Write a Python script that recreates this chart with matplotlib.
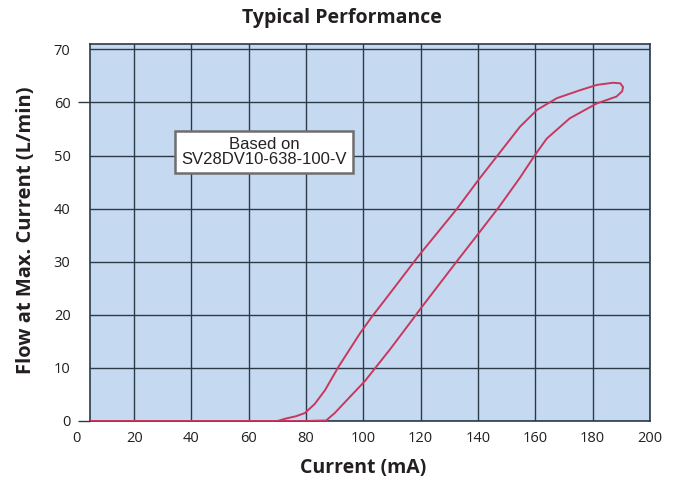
import matplotlib
matplotlib.use("Agg")
import matplotlib.pyplot as plt
from matplotlib.ticker import FixedLocator

# ---- data ----
# rising current branch (lower/right curve)
rising_current = [0, 40, 80, 87, 90, 94, 100.5, 109.3, 116.7, 120, 132.5, 140, 147.3,
                  154.6, 160, 164, 172, 181.4, 188.3, 190.3, 190.6]
rising_flow = [0, 0, 0, 0.1, 1.5, 3.8, 7.5, 13.5, 18.8, 21.2, 30.0, 35.2, 40.3,
               45.8, 50.2, 53.2, 57.0, 59.8, 61.1, 62.1, 62.9]
# falling current branch (upper/left curve)
falling_current = [0, 40, 70, 73.2, 76.5, 79.6, 83, 86.6, 91.3, 98.8, 102.9, 107.5,
                   117.7, 120, 132.7, 140, 146.8, 154.6, 160.6, 167.5, 175.6, 181.5,
                   187.1, 189.6, 190.6]
falling_flow = [0, 0, 0, 0.5, 0.9, 1.5, 3.2, 5.8, 10.2, 16.5, 19.6, 22.8,
                30.0, 31.6, 40.0, 45.3, 50.0, 55.4, 58.6, 60.8, 62.3, 63.3,
                63.7, 63.6, 62.9]

x_ticks = [20, 40, 60, 80, 100, 120, 140, 160, 180, 200]
x_tick_labels = ["20", "40", "60", "80", "100", "120", "140", "160", "180", "200"]
x_origin_label = "0"
y_ticks = [0, 10, 20, 30, 40, 50, 60, 70]
y_tick_labels = ["0", "10", "20", "30", "40", "50", "60", "70"]
stub_ticks = [0, 60]

title = "Typical Performance"
x_label = "Current (mA)"
y_label = "Flow at Max. Current (L/min)"
note = "Based on\nSV28DV10-638-100-V"

# ---- style ----
FONT = ["Open Sans", "DejaVu Sans"]
plt.rcParams["font.family"] = FONT
text_color = "#231f20"
grid_color = "#2c3a48"
bg_color = "#c5daf0"
curve_color = "#c8385e"

fig = plt.figure(figsize=(6.82, 4.83), dpi=100)
ax = fig.add_axes([90 / 682, 1 - 421 / 483, (650 - 90) / 682, (421 - 44) / 483])
ax.set_facecolor(bg_color)

# loop: rising branch then falling branch back
loop_x = rising_current + falling_current[::-1]
loop_y = rising_flow + falling_flow[::-1]
ax.plot(loop_x, loop_y, color=curve_color, lw=1.4, solid_joinstyle="round",
        solid_capstyle="round", zorder=3)

ax.set_xlim(4.6, 200)
ax.set_ylim(0, 71)

ax.set_xticks(x_ticks)
ax.set_xticklabels(x_tick_labels)
ax.set_yticks(y_ticks)
ax.set_yticklabels(y_tick_labels)
ax.tick_params(axis="both", length=0, labelsize=10.5, labelcolor=text_color)
ax.tick_params(axis="x", pad=7)
ax.tick_params(axis="y", pad=14)
ax.yaxis.remove_overlapping_locs = False
ax.yaxis.set_minor_locator(FixedLocator(stub_ticks))
ax.tick_params(axis="y", which="minor", length=9, width=1.0, color=grid_color)

ax.annotate(x_origin_label, xy=(0, 0), xycoords=ax.get_xaxis_transform(),
            xytext=(0, -7), textcoords="offset points",
            ha="center", va="top", fontsize=10.5, color=text_color,
            annotation_clip=False)

ax.grid(True, color=grid_color, lw=1.0, zorder=1)
ax.set_axisbelow(True)
for s in ax.spines.values():
    s.set_color(grid_color)
    s.set_linewidth(1.2)

fig.text(342 / 682, 1 - 18 / 483, title, ha="center", va="center",
         fontsize=14, fontweight="bold", color=text_color)
ax.set_xlabel(x_label, fontsize=14, fontweight="bold", color=text_color)
ax.xaxis.set_label_coords((363 - 90) / 560, -(468 - 421) / 377)
ax.xaxis.label.set_va("center")
ax.set_ylabel(y_label, fontsize=14.5, fontweight="bold", color=text_color)
ax.yaxis.set_label_coords(-(90 - 26) / 560, (421 - 230) / 377)
ax.yaxis.label.set_va("center")

ax.text(65.3, 50.7, note, ha="center", va="center", fontsize=12,
        family=["Liberation Sans", "DejaVu Sans"], color="#222222", linespacing=1.0,
        bbox=dict(boxstyle="square,pad=0.35", fc="white", ec="#6e6e6e", lw=1.8),
        zorder=5)

fig.savefig("out.png", dpi=100)
